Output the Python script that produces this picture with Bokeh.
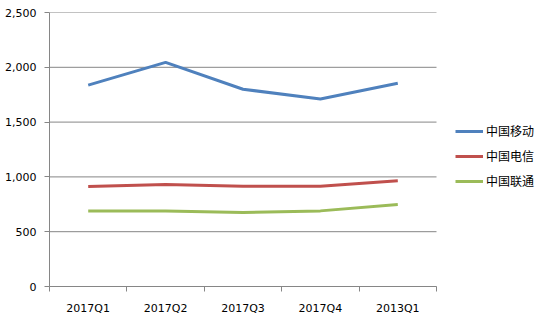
from bokeh.plotting import figure
from bokeh.models import FixedTicker, NumeralTickFormatter, Legend, LegendItem, Range1d
from bokeh.embed import file_html
from bokeh.resources import INLINE

categories = ["2017Q1", "2017Q2", "2017Q3", "2017Q4", "2018Q1"]
tick_labels = ["2017Q1", "2017Q2", "2017Q3", "2017Q4", "2013Q1"]
series_names = ["中国移动", "中国电信", "中国联通"]
mobile = [1837, 2045, 1800, 1710, 1855]
telecom = [912, 930, 915, 915, 964]
unicom = [690, 690, 675, 690, 748]
y_ticks = [0, 500, 1000, 1500, 2000, 2500]
colors = ["#4F81BD", "#C0504D", "#9BBB59"]

n = len(categories)
xs = list(range(1, n + 1))
# plot area spans 387px of the 501px frame; the rest holds the legend
x_end = 0.5 + n * 501.0 / 387.0

p = figure(width=550, height=318, output_backend="svg", toolbar_location=None,
           x_range=Range1d(0.5, x_end), y_range=Range1d(0, 2500),
           min_border_left=49, min_border_right=0, min_border_top=12, min_border_bottom=32)
p.outline_line_color = None
p.background_fill_color = "white"
p.border_fill_color = "white"

# horizontal gridlines limited to the category area
p.segment(x0=[0.5] * len(y_ticks), x1=[n + 0.5] * len(y_ticks), y0=y_ticks, y1=y_ticks,
          line_color="#868686", line_width=1)

renderers = []
for vals, c in zip([mobile, telecom, unicom], colors):
    r = p.line(xs, vals, line_color=c, line_width=3)
    renderers.append(r)

# x axis
p.xaxis.bounds = (0.5, n + 0.5)
p.xaxis.ticker = FixedTicker(ticks=xs, minor_ticks=[x - 0.5 for x in xs] + [xs[-1] + 0.5])
p.xaxis.major_label_overrides = {x: lab for x, lab in zip(xs, tick_labels)}
p.xaxis.major_tick_line_color = None
p.xaxis.major_tick_out = 0
p.xaxis.major_tick_in = 0
p.xaxis.minor_tick_line_color = "#868686"
p.xaxis.minor_tick_out = 5
p.xaxis.minor_tick_in = 0
p.xaxis.axis_line_color = "#868686"
p.xaxis.major_label_standoff = 10
p.xaxis.major_label_text_font = "DejaVu Sans"
p.xaxis.major_label_text_font_size = "11px"
p.xaxis.major_label_text_color = "black"
p.xgrid.grid_line_color = None

# y axis
p.yaxis.ticker = FixedTicker(ticks=y_ticks)
p.yaxis.formatter = NumeralTickFormatter(format="0,0")
p.yaxis.major_tick_line_color = "#868686"
p.yaxis.major_tick_out = 5
p.yaxis.major_tick_in = 0
p.yaxis.minor_tick_line_color = None
p.yaxis.axis_line_color = "#868686"
p.yaxis.major_label_standoff = 8
p.yaxis.major_label_text_font = "DejaVu Sans"
p.yaxis.major_label_text_font_size = "11px"
p.yaxis.major_label_text_color = "black"
p.ygrid.grid_line_color = None

legend = Legend(items=[LegendItem(label=nm, renderers=[r]) for nm, r in zip(series_names, renderers)],
                location=(406, 97), border_line_color=None, background_fill_alpha=0,
                label_text_font="Noto Sans CJK SC", label_text_font_size="12px",
                label_text_color="black",
                glyph_width=28, glyph_height=12, spacing=8, padding=0,
                margin=0, label_standoff=3)
p.add_layout(legend, "center")

open("out.html", "w").write(file_html(p, INLINE))
